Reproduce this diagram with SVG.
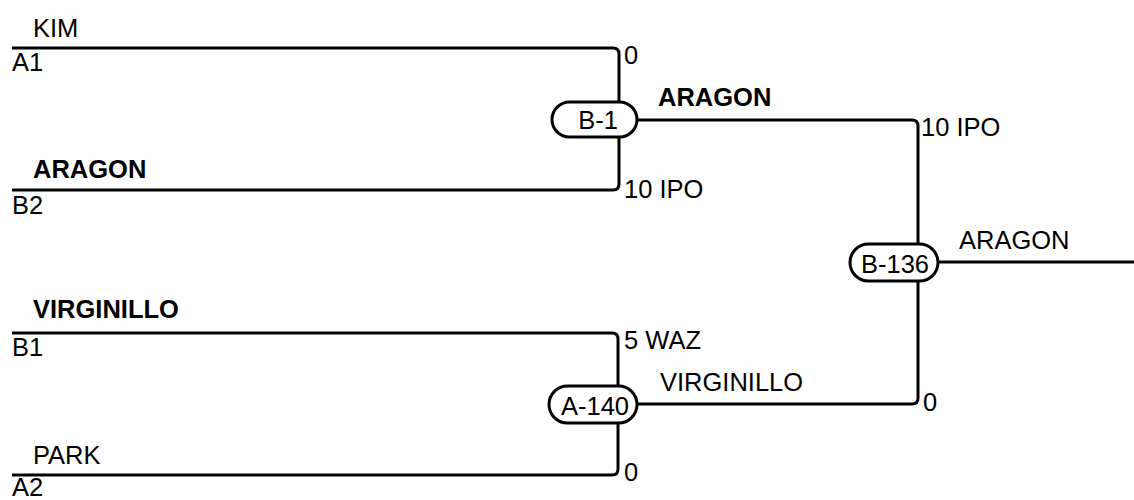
<svg xmlns="http://www.w3.org/2000/svg" width="1134" height="500" viewBox="0 0 1134 500">
<style>
.ln{fill:none;stroke:#000;stroke-width:3}
.pill{fill:#fff;stroke:#000;stroke-width:3}
text{font-family:"Liberation Sans",Arial,sans-serif;font-size:25.5px;fill:#000}
.b{font-weight:bold}
</style>
<rect width="1134" height="500" fill="#fff"/>
<g id="connectors">
<path class="ln" d="M12,48 H613 Q619,48 619,54 V184 Q619,190 613,190 H12"/>
<path class="ln" d="M12,333 H612 Q618,333 618,339 V469 Q618,475 612,475 H12"/>
<path class="ln" d="M637,120 H912 Q918,120 918,126 V398 Q918,404 912,404 H637"/>
<path class="ln" d="M938,262 H1134"/>
</g>
<g id="A1"><text x="33" y="37">KIM</text><text x="12" y="71">A1</text></g>
<g id="B2"><text class="b" x="33" y="178">ARAGON</text><text x="12" y="214">B2</text></g>
<g id="B1"><text class="b" x="33" y="318">VIRGINILLO</text><text x="12" y="356">B1</text></g>
<g id="A2"><text x="33" y="464">PARK</text><text x="12" y="496">A2</text></g>
<g id="B-1">
<rect class="pill" x="552" y="102" width="85" height="35" rx="17.5"/>
<text x="618" y="129" text-anchor="end">B-1</text>
<text x="624" y="64">0</text>
<text x="624" y="198">10 IPO</text>
<text class="b" x="658" y="106">ARAGON</text>
</g>
<g id="A-140">
<rect class="pill" x="549" y="386" width="88" height="37" rx="18.5"/>
<text x="629" y="415" text-anchor="end">A-140</text>
<text x="624" y="349">5 WAZ</text>
<text x="624" y="481">0</text>
<text x="660" y="391">VIRGINILLO</text>
</g>
<g id="B-136">
<rect class="pill" x="850" y="244" width="88" height="37" rx="18.5"/>
<text x="929" y="273" text-anchor="end">B-136</text>
<text x="921" y="136">10 IPO</text>
<text x="923" y="411">0</text>
<text x="959" y="249">ARAGON</text>
</g>
</svg>
